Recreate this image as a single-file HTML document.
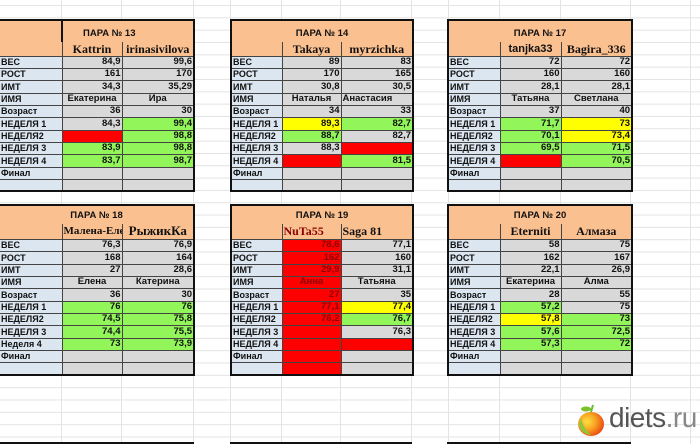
<!DOCTYPE html>
<html><head><meta charset="utf-8"><style>
body{margin:0;width:700px;height:444px;overflow:hidden;background:#fff;position:relative;font-family:"Liberation Sans",Arial,sans-serif}
.grid{position:absolute;left:0;top:0;width:700px;height:444px;
background-image:linear-gradient(#e3e3e3 1px,transparent 1px);background-size:700px 12.33px;background-position:0 5px}
.v{position:absolute;top:0;width:1px;height:444px;background:#e3e3e3}
table{position:absolute;border-collapse:collapse;table-layout:fixed;border:2px solid #111;font-weight:bold;font-size:9.5px;color:#111}
td{padding:0 1px;border:1px solid #444;overflow:hidden;white-space:nowrap;line-height:10px;background:#d9d9d9;text-align:right}
td.l{background:#dce6f1;text-align:left;font-size:9px}
tr.t td{background:#fac090;text-align:center;vertical-align:bottom;padding-bottom:3px;border:none;font-size:9.5px}
tr.n td{background:#fac090;text-align:center;font-family:"Liberation Serif",serif;font-size:12px;border-top:none;border-bottom:1px solid #444}
tr.n td.l{background:#fac090}
td.c{text-align:center}
.g{background:#92f55a}.r{background:#ff0000}.y{background:#ffff00}
.dr{color:#8b0000}
.bl{position:absolute;height:2px;background:#111;top:442px}
</style></head><body>
<div class="grid"></div>
<div class="v" style="left:61px"></div><div class="v" style="left:121px"></div><div class="v" style="left:193px"></div>
<div class="v" style="left:230px"></div><div class="v" style="left:281px"></div><div class="v" style="left:340px"></div><div class="v" style="left:411px"></div>
<div class="v" style="left:448px"></div><div class="v" style="left:499px"></div><div class="v" style="left:560px"></div><div class="v" style="left:630px"></div><div class="v" style="left:690px"></div>

<!-- 13 -->
<table style="left:-2px;top:19px;width:196px">
<colgroup><col style="width:63px"><col style="width:60px"><col style="width:72px"></colgroup>
<tr class="t" style="height:22px"><td class="l" style="background:#fac090;border-right:2px solid #111"></td><td colspan="2" style="text-align:left;padding-left:20px">ПАРА № 13</td></tr>
<tr class="n" style="height:14px"><td class="l"></td><td>Kattrin</td><td>irinasivilova</td></tr>
<tr style="height:12px"><td class="l">ВЕС</td><td>84,9</td><td>99,6</td></tr>
<tr style="height:12px"><td class="l">РОСТ</td><td>161</td><td>170</td></tr>
<tr style="height:13px"><td class="l">ИМТ</td><td>34,3</td><td>35,29</td></tr>
<tr style="height:12px"><td class="l">ИМЯ</td><td class="c">Екатерина</td><td class="c">Ира</td></tr>
<tr style="height:12px"><td class="l">Возраст</td><td>36</td><td>30</td></tr>
<tr style="height:13px"><td class="l">НЕДЕЛЯ 1</td><td>84,3</td><td class="g">99,4</td></tr>
<tr style="height:12px"><td class="l">НЕДЕЛЯ2</td><td class="r"></td><td class="g">98,8</td></tr>
<tr style="height:12px"><td class="l">НЕДЕЛЯ 3</td><td class="g">83,9</td><td class="g">98,8</td></tr>
<tr style="height:13px"><td class="l">НЕДЕЛЯ 4</td><td class="g">83,7</td><td class="g">98,7</td></tr>
<tr style="height:12px"><td class="l">Финал</td><td></td><td></td></tr>
<tr style="height:12px"><td class="l"></td><td></td><td></td></tr>
</table>

<!-- 14 -->
<table style="left:230px;top:19px;width:182px">
<colgroup><col style="width:51px"><col style="width:59px"><col style="width:72px"></colgroup>
<tr class="t" style="height:22px"><td colspan="3">ПАРА № 14</td></tr>
<tr class="n" style="height:14px"><td class="l"></td><td>Takaya</td><td>myrzichka</td></tr>
<tr style="height:12px"><td class="l">ВЕС</td><td>89</td><td>83</td></tr>
<tr style="height:12px"><td class="l">РОСТ</td><td>170</td><td>165</td></tr>
<tr style="height:13px"><td class="l">ИМТ</td><td>30,8</td><td>30,5</td></tr>
<tr style="height:12px"><td class="l">ИМЯ</td><td class="c">Наталья</td><td style="text-align:left">Анастасия</td></tr>
<tr style="height:12px"><td class="l">Возраст</td><td>34</td><td>33</td></tr>
<tr style="height:13px"><td class="l">НЕДЕЛЯ 1</td><td class="y">89,3</td><td class="g">82,7</td></tr>
<tr style="height:12px"><td class="l">НЕДЕЛЯ2</td><td class="g">88,7</td><td>82,7</td></tr>
<tr style="height:12px"><td class="l">НЕДЕЛЯ 3</td><td>88,3</td><td class="r"></td></tr>
<tr style="height:13px"><td class="l">НЕДЕЛЯ 4</td><td class="r"></td><td class="g">81,5</td></tr>
<tr style="height:12px"><td class="l">Финал</td><td></td><td></td></tr>
<tr style="height:12px"><td class="l"></td><td></td><td></td></tr>
</table>

<!-- 17 -->
<table style="left:447px;top:19px;width:184px">
<colgroup><col style="width:52px"><col style="width:61px"><col style="width:71px"></colgroup>
<tr class="t" style="height:22px"><td colspan="3">ПАРА № 17</td></tr>
<tr class="n" style="height:14px"><td class="l"></td><td style="font-family:'Liberation Sans',sans-serif;font-size:11px">tanjka33</td><td>Bagira_336</td></tr>
<tr style="height:12px"><td class="l">ВЕС</td><td>72</td><td>72</td></tr>
<tr style="height:12px"><td class="l">РОСТ</td><td>160</td><td>160</td></tr>
<tr style="height:13px"><td class="l">ИМТ</td><td>28,1</td><td>28,1</td></tr>
<tr style="height:12px"><td class="l">ИМЯ</td><td class="c">Татьяна</td><td class="c">Светлана</td></tr>
<tr style="height:12px"><td class="l">Возраст</td><td>37</td><td>40</td></tr>
<tr style="height:13px"><td class="l">НЕДЕЛЯ 1</td><td class="g">71,7</td><td class="y">73</td></tr>
<tr style="height:12px"><td class="l">НЕДЕЛЯ2</td><td class="g">70,1</td><td class="y">73,4</td></tr>
<tr style="height:12px"><td class="l">НЕДЕЛЯ 3</td><td class="g">69,5</td><td class="g">71,5</td></tr>
<tr style="height:13px"><td class="l">НЕДЕЛЯ 4</td><td class="r"></td><td class="g">70,5</td></tr>
<tr style="height:12px"><td class="l">Финал</td><td></td><td></td></tr>
<tr style="height:12px"><td class="l"></td><td></td><td></td></tr>
</table>

<!-- 18 -->
<table style="left:-2px;top:204px;width:196px">
<colgroup><col style="width:63px"><col style="width:60px"><col style="width:72px"></colgroup>
<tr class="t" style="height:19px"><td colspan="3">ПАРА № 18</td></tr>
<tr class="n" style="height:15px"><td class="l"></td><td style="text-align:left;font-size:11px">Малена-Елена</td><td style="font-size:13px">РыжикКа</td></tr>
<tr style="height:12px"><td class="l">ВЕС</td><td>76,3</td><td>76,9</td></tr>
<tr style="height:13px"><td class="l">РОСТ</td><td>168</td><td>164</td></tr>
<tr style="height:12px"><td class="l">ИМТ</td><td>27</td><td>28,6</td></tr>
<tr style="height:12px"><td class="l">ИМЯ</td><td class="c">Елена</td><td class="c">Катерина</td></tr>
<tr style="height:13px"><td class="l">Возраст</td><td>36</td><td>30</td></tr>
<tr style="height:12px"><td class="l">НЕДЕЛЯ 1</td><td class="g">76</td><td class="g">76</td></tr>
<tr style="height:12px"><td class="l">НЕДЕЛЯ2</td><td class="g">74,5</td><td class="g">75,8</td></tr>
<tr style="height:13px"><td class="l">НЕДЕЛЯ 3</td><td class="g">74,4</td><td class="g">75,5</td></tr>
<tr style="height:12px"><td class="l">Неделя 4</td><td class="g">73</td><td class="g">73,9</td></tr>
<tr style="height:12px"><td class="l">Финал</td><td></td><td></td></tr>
<tr style="height:13px"><td class="l"></td><td></td><td></td></tr>
</table>

<!-- 19 -->
<table style="left:230px;top:204px;width:182px">
<colgroup><col style="width:51px"><col style="width:59px"><col style="width:72px"></colgroup>
<tr class="t" style="height:19px"><td colspan="3">ПАРА № 19</td></tr>
<tr class="n" style="height:15px"><td class="l"></td><td class="r dr" style="text-align:left">NuTa55</td><td style="text-align:left">Saga 81</td></tr>
<tr style="height:12px"><td class="l">ВЕС</td><td class="r dr">78,6</td><td>77,1</td></tr>
<tr style="height:13px"><td class="l">РОСТ</td><td class="r dr">162</td><td>160</td></tr>
<tr style="height:12px"><td class="l">ИМТ</td><td class="r dr">29,9</td><td>31,1</td></tr>
<tr style="height:12px"><td class="l">ИМЯ</td><td class="r dr c">Анна</td><td class="c">Татьяна</td></tr>
<tr style="height:13px"><td class="l">Возраст</td><td class="r dr">27</td><td>35</td></tr>
<tr style="height:12px"><td class="l">НЕДЕЛЯ 1</td><td class="r dr">77,1</td><td class="y">77,4</td></tr>
<tr style="height:12px"><td class="l">НЕДЕЛЯ2</td><td class="r dr">76,2</td><td class="g">76,7</td></tr>
<tr style="height:13px"><td class="l">НЕДЕЛЯ 3</td><td class="r"></td><td>76,3</td></tr>
<tr style="height:12px"><td class="l">НЕДЕЛЯ 4</td><td class="r"></td><td class="r"></td></tr>
<tr style="height:12px"><td class="l">Финал</td><td class="r"></td><td></td></tr>
<tr style="height:13px"><td class="l"></td><td class="r"></td><td></td></tr>
</table>

<!-- 20 -->
<table style="left:447px;top:204px;width:184px">
<colgroup><col style="width:52px"><col style="width:61px"><col style="width:71px"></colgroup>
<tr class="t" style="height:19px"><td colspan="3">ПАРА № 20</td></tr>
<tr class="n" style="height:15px"><td class="l"></td><td>Eterniti</td><td>Алмаза</td></tr>
<tr style="height:12px"><td class="l">ВЕС</td><td>58</td><td>75</td></tr>
<tr style="height:13px"><td class="l">РОСТ</td><td>162</td><td>167</td></tr>
<tr style="height:12px"><td class="l">ИМТ</td><td>22,1</td><td>26,9</td></tr>
<tr style="height:12px"><td class="l">ИМЯ</td><td class="c">Екатерина</td><td class="c">Алма</td></tr>
<tr style="height:13px"><td class="l">Возраст</td><td>28</td><td>55</td></tr>
<tr style="height:12px"><td class="l">НЕДЕЛЯ 1</td><td class="g">57,2</td><td>75</td></tr>
<tr style="height:12px"><td class="l">НЕДЕЛЯ2</td><td class="y">57,8</td><td class="g">73</td></tr>
<tr style="height:13px"><td class="l">НЕДЕЛЯ 3</td><td class="g">57,6</td><td class="g">72,5</td></tr>
<tr style="height:12px"><td class="l">НЕДЕЛЯ 4</td><td class="g">57,3</td><td class="g">72</td></tr>
<tr style="height:12px"><td class="l">Финал</td><td></td><td></td></tr>
<tr style="height:13px"><td class="l"></td><td></td><td></td></tr>
</table>

<div class="bl" style="left:0;width:194px"></div>
<div class="bl" style="left:230px;width:182px"></div>
<div class="bl" style="left:447px;width:184px"></div>

<svg style="position:absolute;left:575px;top:402px" width="32" height="36" viewBox="0 0 32 36">
<defs><radialGradient id="ap" cx="0.35" cy="0.4" r="0.7"><stop offset="0" stop-color="#ffe040"/><stop offset="0.5" stop-color="#f7a020"/><stop offset="1" stop-color="#e84010"/></radialGradient></defs>
<ellipse cx="16" cy="22" rx="13" ry="12" fill="url(#ap)"/>
<path d="M6 16 Q8 26 16 33 Q6 32 4 22 Z" fill="#8cc63f"/>
<path d="M16 10 L18 3" stroke="#6b3" stroke-width="2"/>
<ellipse cx="11" cy="7" rx="5" ry="2.5" fill="#7bbf2a"/>
</svg>
<div style="position:absolute;left:609px;top:402px;font-size:28px;color:#555;letter-spacing:-0.5px">diets<span style="color:#888">.ru</span></div>
</body></html>
